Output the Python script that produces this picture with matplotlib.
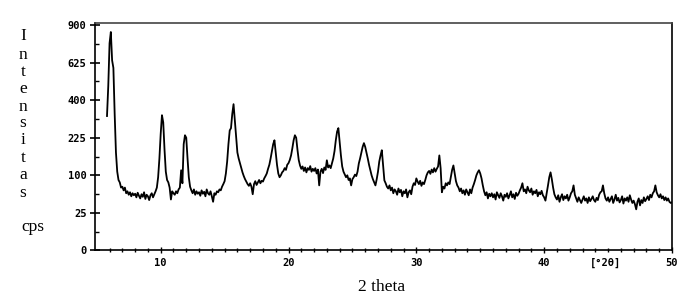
import matplotlib
matplotlib.use("Agg")
import matplotlib.pyplot as plt
import numpy as np

# XRD scan, intensity in cps, 0.1 deg steps from 5.8 to 50.0 deg 2theta
start_2theta = 5.8
step_2theta = 0.1
intensity_rows = [
    [320, 480],                                             # 5.8 - 5.9
    [760, 845, 640, 590, 330, 170, 110, 88, 82, 70],        # 6
    [72, 64, 70, 58, 62, 55, 60, 52, 58, 54],               # 7
    [57, 50, 59, 53, 48, 56, 51, 60, 47, 55],               # 8
    [52, 45, 54, 58, 50, 56, 62, 70, 95, 150],              # 9
    [240, 324, 290, 180, 110, 88, 82, 70, 46, 62],          # 10
    [58, 55, 62, 58, 66, 70, 114, 80, 200, 235],            # 11
    [225, 150, 95, 72, 64, 58, 66, 55, 62, 57],             # 12
    [60, 53, 64, 57, 61, 52, 66, 58, 55, 62],               # 13
    [52, 42, 58, 55, 62, 60, 66, 64, 72, 78],               # 14
    [85, 105, 140, 200, 255, 265, 330, 379, 300, 230],      # 15
    [170, 150, 135, 120, 108, 98, 90, 84, 78, 74],          # 16
    [80, 72, 56, 78, 85, 76, 82, 88, 80, 86],               # 17
    [84, 92, 98, 105, 118, 130, 150, 175, 200, 215],        # 18
    [170, 130, 105, 95, 100, 108, 112, 120, 115, 130],      # 19
    [135, 145, 160, 185, 215, 235, 225, 180, 145, 128],     # 20
    [118, 125, 112, 122, 108, 120, 115, 126, 110, 118],     # 21
    [112, 120, 105, 116, 75, 110, 118, 106, 122, 115],      # 22
    [144, 122, 128, 120, 135, 150, 175, 215, 250, 265],     # 23
    [210, 160, 125, 110, 102, 95, 100, 88, 92, 75],         # 24
    [90, 95, 102, 98, 110, 134, 150, 170, 190, 204],        # 25
    [190, 170, 150, 130, 114, 100, 90, 82, 75, 90],         # 26
    [110, 140, 160, 178, 130, 87, 80, 72, 68, 75],          # 27
    [64, 70, 58, 66, 62, 55, 68, 60, 65, 52],               # 28
    [62, 58, 66, 50, 60, 64, 56, 72, 80, 76],               # 29
    [92, 84, 78, 86, 74, 82, 78, 88, 100, 108],             # 30
    [112, 104, 116, 108, 120, 110, 118, 125, 160, 120],     # 31
    [60, 72, 68, 80, 75, 82, 78, 95, 115, 128],             # 32
    [105, 85, 75, 70, 62, 68, 58, 64, 55, 66],              # 33
    [60, 54, 66, 58, 70, 78, 88, 100, 108, 114],            # 34
    [105, 92, 75, 62, 54, 60, 48, 57, 52, 58],              # 35
    [50, 56, 46, 60, 54, 49, 58, 52, 44, 55],               # 36
    [51, 58, 48, 54, 62, 50, 56, 47, 59, 53],               # 37
    [57, 64, 70, 80, 62, 66, 58, 72, 64, 60],               # 38
    [68, 55, 62, 58, 65, 52, 60, 56, 63, 54],               # 39
    [50, 44, 58, 75, 95, 108, 90, 70, 56, 50],              # 40
    [46, 54, 42, 50, 56, 45, 52, 48, 55, 44],               # 41
    [50, 58, 62, 75, 55, 48, 42, 50, 45, 40],               # 42
    [46, 52, 44, 48, 40, 50, 43, 47, 52, 45],               # 43
    [42, 49, 45, 55, 60, 62, 75, 58, 48, 44],               # 44
    [50, 42, 47, 52, 40, 46, 55, 44, 49, 41],               # 45
    [45, 52, 39, 48, 44, 50, 42, 54, 46, 40],               # 46
    [44, 38, 30, 42, 48, 36, 45, 40, 50, 43],               # 47
    [47, 52, 45, 55, 50, 58, 62, 75, 60, 54],               # 48
    [50, 56, 48, 52, 45, 50, 44, 48, 42, 40],               # 49
    [41],                                                   # 50.0
]

y_ticks = [0, 25, 100, 225, 400, 625, 900]
x_ticks = [10, 20, 30, 40, 50]
ylabel_letters = ["I", "n", "t", "e", "n", "s", "i", "t", "a", "s"]

intensity = np.array([v for row in intensity_rows for v in row], dtype=float)
two_theta = np.round(start_2theta + step_2theta * np.arange(len(intensity)), 2)


def fwd(y):
    return np.sqrt(np.clip(y, 0, None))


def inv(y):
    return np.asarray(y) ** 2


fig = plt.figure(figsize=(6.89, 3.04), dpi=100)
ax = fig.add_axes([0.1386, 0.176, 0.8367, 0.7484])

ax.plot(two_theta, intensity, color="black", linewidth=1.3)

ax.set_yscale("function", functions=(fwd, inv))
ax.set_ylim(0, 916)
ax.set_xlim(4.9, 50)

tick_font = dict(family="DejaVu Sans Mono", weight="bold", size=7.5)
ax.set_yticks(y_ticks)
ax.set_yticklabels([str(t) for t in y_ticks], **tick_font)
ax.set_yticks([m ** 2 for m in (2.5, 7.5, 12.5, 17.5, 22.5, 27.5)], minor=True)
ax.set_xticks(x_ticks)
ax.set_xticklabels([str(t) for t in x_ticks], **tick_font)
ax.set_xticks(np.arange(6, 50, 1), minor=True)

ax.tick_params(axis="y", which="major", direction="inout", length=7, width=1.2, pad=3)
ax.tick_params(axis="y", which="minor", direction="in", length=3, width=1.0)
ax.tick_params(axis="x", which="major", direction="inout", length=5, width=1.0, pad=3)
ax.tick_params(axis="x", which="minor", direction="inout", length=3, width=1.0)

for side in ["left", "bottom", "right"]:
    ax.spines[side].set_linewidth(1.2)
ax.spines["top"].set_color("#444444")
ax.spines["top"].set_linewidth(1.2)

# unit label sits in the tick-label row, between 40 and 50
ax.annotate("[°2θ]", xy=(44.8, 0), xycoords=("data", "axes fraction"),
            xytext=(0, -5.5), textcoords="offset points",
            ha="center", va="top", **tick_font)

serif = "Liberation Serif"
fig.text(0.554, 0.055, "2 theta", ha="center", va="center", family=serif, fontsize=12.5)

letter_y = [36, 55, 72, 89, 107, 123, 140, 158, 175, 193]
for ch, yp in zip(ylabel_letters, letter_y):
    fig.text(23 / 689, 1 - yp / 304, ch, ha="center", va="center", family=serif, fontsize=12.5)
fig.text(33 / 689, 1 - 227 / 304, "cps", ha="center", va="center", family=serif, fontsize=12.5)

fig.savefig("out.png", dpi=100)
